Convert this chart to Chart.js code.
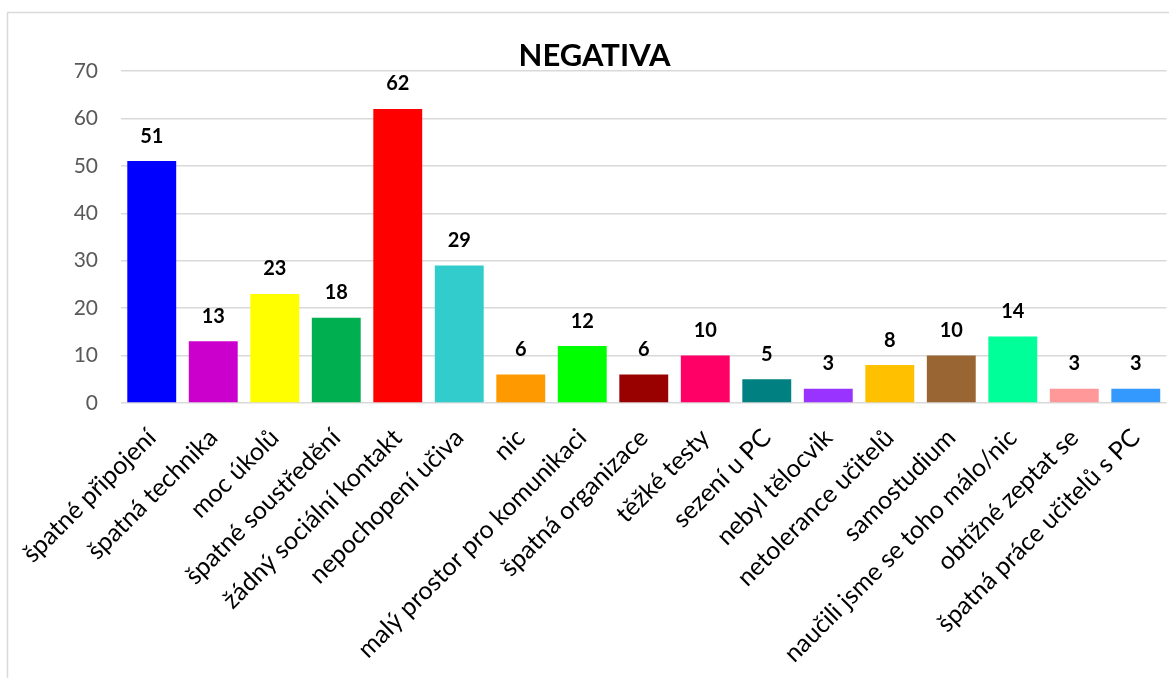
<!DOCTYPE html>
<html>
<head>
<meta charset="utf-8">
<script src="https://cdn.jsdelivr.net/npm/chart.js@4/dist/chart.umd.min.js"></script>
<style>
  html, body { margin: 0; padding: 0; background: #ffffff; overflow: hidden; }
  #wrap { position: absolute; left: 0; top: 0; width: 1169px; height: 678px; }
</style>
</head>
<body>
<div id="wrap"><canvas id="c" width="1169" height="678"></canvas></div>
<script>
const chartTitle = 'NEGATIVA';
const categories = [
  'špatné připojení',
  'špatná technika',
  'moc úkolů',
  'špatné soustředění',
  'žádný sociální kontakt',
  'nepochopení učiva',
  'nic',
  'malý prostor pro komunikaci',
  'špatná organizace',
  'těžké testy',
  'sezení u PC',
  'nebyl tělocvik',
  'netolerance učitelů',
  'samostudium',
  'naučili jsme se toho málo/nic',
  'obtížné zeptat se',
  'špatná práce učitelů s PC'
];
const values = [51, 13, 23, 18, 62, 29, 6, 12, 6, 10, 5, 3, 8, 10, 14, 3, 3];
const barColors = [
  '#0000FF', '#CC00CC', '#FFFF00', '#00B050', '#FF0000', '#33CCCC',
  '#FF9900', '#00FF00', '#990000', '#FF0066', '#008080', '#9933FF',
  '#FFC000', '#996633', '#00FF99', '#FF9999', '#3399FF'
];
const yTicks = [0, 10, 20, 30, 40, 50, 60, 70];

const frameAndTitle = {
  id: 'frameAndTitle',
  beforeDraw(chart) {
    const ctx = chart.ctx;
    ctx.save();
    ctx.fillStyle = '#ffffff';
    ctx.fillRect(0, 0, chart.width, chart.height);
    ctx.strokeStyle = '#d9d9d9';
    ctx.lineWidth = 1.5;
    ctx.strokeRect(7.5, 12.5, 1300, 800);
    ctx.restore();
  },
  afterDraw(chart) {
    const ctx = chart.ctx;
    ctx.save();
    ctx.font = 'bold 31px Lato';
    ctx.fillStyle = '#000000';
    ctx.textAlign = 'center';
    ctx.textBaseline = 'middle';
    ctx.fillText(chartTitle, 594.5, 56);
    ctx.restore();
  }
};

const valueLabels = {
  id: 'valueLabels',
  afterDatasetsDraw(chart) {
    const ctx = chart.ctx;
    const meta = chart.getDatasetMeta(0);
    ctx.save();
    ctx.font = 'bold 20px Lato';
    ctx.fillStyle = '#000000';
    ctx.textAlign = 'center';
    ctx.textBaseline = 'middle';
    meta.data.forEach((bar, i) => {
      ctx.fillText(String(chart.data.datasets[0].data[i]), bar.x, bar.y - 25);
    });
    ctx.restore();
  }
};

new Chart(document.getElementById('c'), {
  type: 'bar',
  data: {
    labels: categories,
    datasets: [{
      data: values,
      backgroundColor: barColors,
      borderWidth: 0,
      barPercentage: 0.795,
      categoryPercentage: 1.0
    }]
  },
  options: {
    responsive: false,
    animation: false,
    devicePixelRatio: 1,
    layout: { padding: { top: 71, right: 0, left: 0, bottom: 0 } },
    plugins: {
      legend: { display: false },
      title: { display: false },
      tooltip: { enabled: false }
    },
    scales: {
      x: {
        grid: { display: false },
        border: { display: false },
        ticks: {
          autoSkip: false,
          maxRotation: 45,
          minRotation: 45,
          padding: 12,
          color: '#000000',
          font: { family: 'Lato', size: 25 }
        },
        afterFit(s) { s.height = 275; }
      },
      y: {
        min: 0,
        max: 70,
        afterBuildTicks(s) { s.ticks = yTicks.map(v => ({ value: v })); },
        grid: { color: '#d9d9d9', lineWidth: 1.5, drawTicks: false },
        border: { display: false },
        ticks: {
          padding: 23,
          color: '#595959',
          font: { family: 'Lato', size: 21 }
        },
        afterFit(s) { s.width = 121; }
      }
    }
  },
  plugins: [frameAndTitle, valueLabels]
});
</script>
</body>
</html>
